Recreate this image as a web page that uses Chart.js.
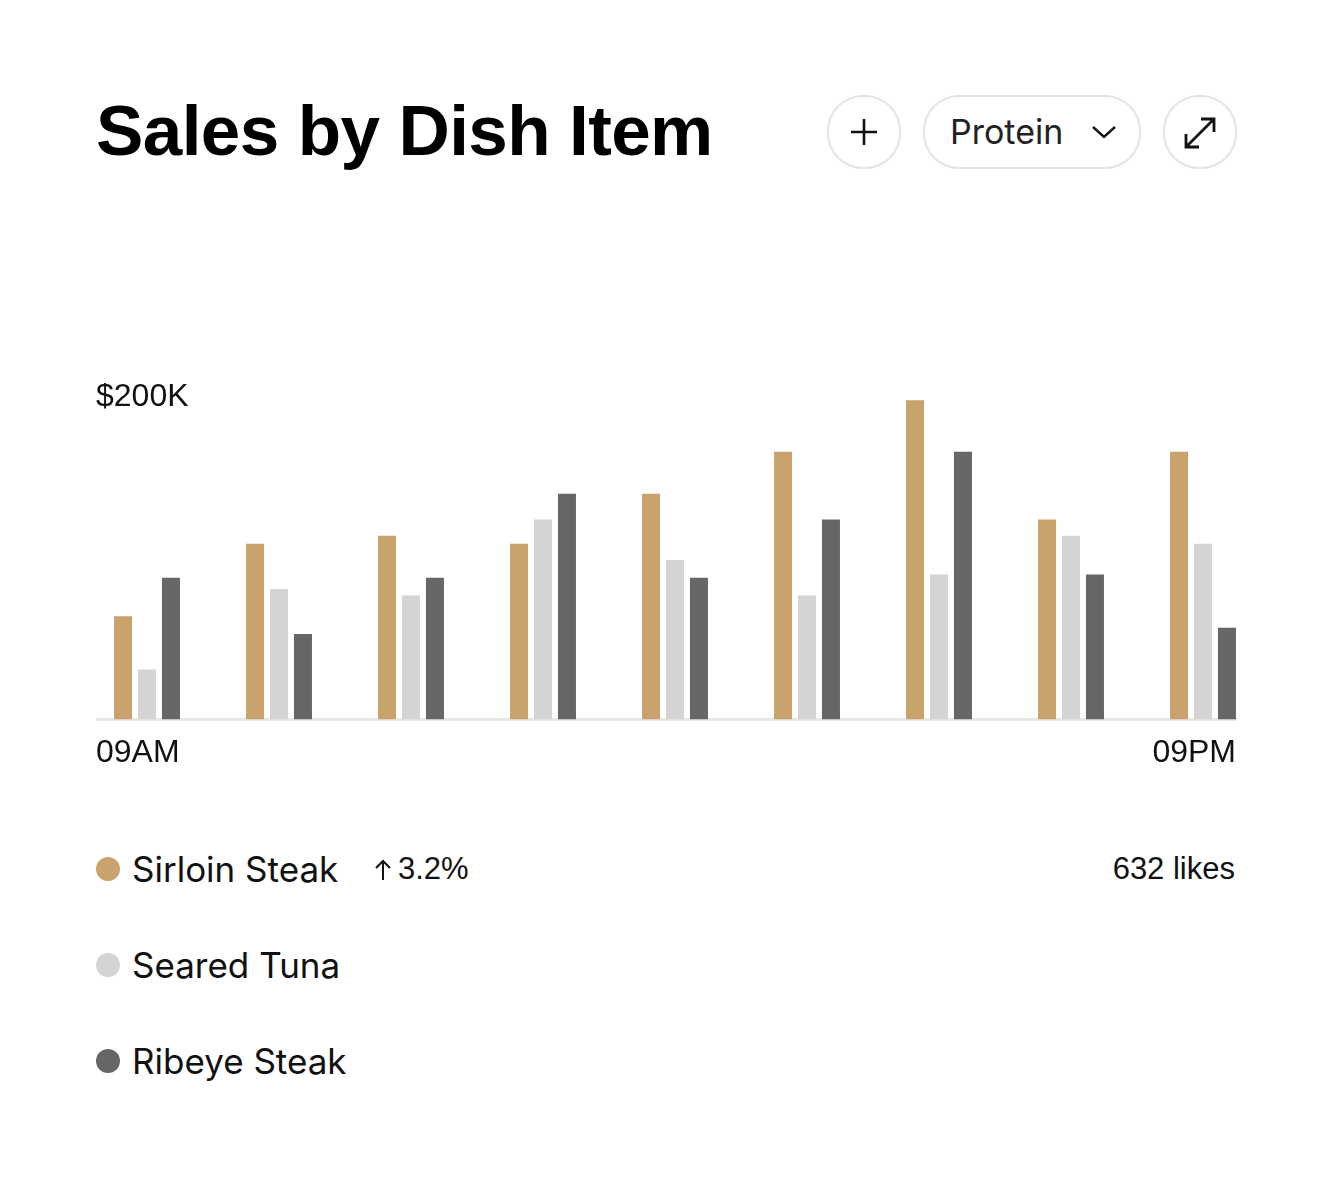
<!DOCTYPE html>
<html>
<head>
<meta charset="utf-8">
<script src="https://cdn.jsdelivr.net/npm/chart.js@4/dist/chart.umd.min.js"></script>
<style>
  html, body { margin: 0; padding: 0; background: #fff; }
  body { width: 1332px; height: 1188px; position: relative; overflow: hidden; font-family: "Liberation Sans", Arial, sans-serif; color: #111; }
  .abs { position: absolute; white-space: nowrap; }
  #title { left: 96px; top: 95px; font-size: 71px; line-height: 71px; font-weight: bold; letter-spacing: -0.6px; color: #000; }
  .btn { position: absolute; box-sizing: border-box; border: 2px solid #e4e4e4; border-radius: 36px; height: 74px; top: 95px; background: #fff; }
  #plus { left: 827px; width: 74px; }
  #pill { left: 923px; width: 218px; }
  #expand { left: 1163px; width: 74px; }
  #pill span { position: absolute; left: 25px; top: 17px; font-family: Inter, sans-serif; font-size: 34px; line-height: 36px; color: #222; }
  .btn svg { position: absolute; }
  #chartBox { position: absolute; left: 96px; top: 370px; width: 1141px; height: 402px; }
  .leg { position: absolute; left: 96px; height: 40px; }
  .dot { position: absolute; left: 0; top: 8px; width: 24px; height: 24px; border-radius: 50%; }
  .leg span { position: absolute; left: 36px; top: 0; font-family: Inter, sans-serif; font-size: 35px; line-height: 40px; color: #111; white-space: nowrap; }
  .small { font-size: 31px; line-height: 40px; color: #111; }
</style>
</head>
<body>
<div id="title" class="abs">Sales by Dish Item</div>

<div class="btn" id="plus">
  <svg width="70" height="70" style="left:0;top:0" viewBox="0 0 70 70">
    <path d="M35 22 V48 M22 35 H48" stroke="#111" stroke-width="2.6" fill="none"/>
  </svg>
</div>
<div class="btn" id="pill">
  <span>Protein</span>
  <svg width="30" height="20" style="left:165px;top:25px" viewBox="0 0 30 20">
    <path d="M3 5 L14 15 L25 5" stroke="#111" stroke-width="2.4" fill="none"/>
  </svg>
</div>
<div class="btn" id="expand">
  <svg width="70" height="70" style="left:0;top:0" viewBox="0 0 70 70">
    <path d="M21 50 L49 22 M36 22 H49 V35 M21 37 V50 H34" stroke="#111" stroke-width="2.8" fill="none"/>
  </svg>
</div>

<div id="chartBox"><canvas id="myChartBar"></canvas></div>

<div class="leg" style="top:849px"><div class="dot" style="background:#c9a26d"></div><span>Sirloin Steak</span></div>
<svg class="abs" style="left:373px;top:858px" width="20" height="24" viewBox="0 0 20 24">
  <path d="M10 22 V3 M3 10 L10 3 L17 10" stroke="#111" stroke-width="2" fill="none"/>
</svg>
<div class="abs small" style="left:398px;top:849px">3.2%</div>
<div class="abs small" style="right:97px;top:849px">632 likes</div>
<div class="leg" style="top:945px"><div class="dot" style="background:#d4d4d4"></div><span>Seared Tuna</span></div>
<div class="leg" style="top:1041px"><div class="dot" style="background:#666666"></div><span>Ribeye Steak</span></div>

<script>
const ctxBar = document.getElementById('myChartBar');

// time slots, 09AM .. 09PM
const slots = ['09AM', '10:30AM', '12PM', '01:30PM', '03PM', '04:30PM', '06PM', '07:30PM', '09PM'];
const tickLabels = ['09AM', '09PM'];
const yTickValue = 200;

// sales in $K
const sirloin = [64, 109, 114, 109, 140, 166, 198, 124, 166];
const tuna    = [31, 81, 77, 124, 99, 77, 90, 114, 109];
const ribeye  = [88, 53, 88, 140, 88, 124, 166, 90, 57];

const xMin = -0.3864;
const xMax = 8.25;

function pts(arr) {
    return arr.map((v, i) => ({ x: i, y: v }));
}

new Chart(ctxBar, {
    type: 'bar',
    data: {
        datasets: [
            { label: 'Sirloin Steak', data: pts(sirloin), backgroundColor: '#c9a26d' },
            { label: 'Seared Tuna', data: pts(tuna), backgroundColor: '#d4d4d4' },
            { label: 'Ribeye Steak', data: pts(ribeye), backgroundColor: '#666666' }
        ]
    },
    options: {
        responsive: true,
        maintainAspectRatio: false,
        animation: false,
        categoryPercentage: 0.545,
        barPercentage: 0.75,
        layout: { padding: { top: 27, left: 0, right: 1, bottom: 0 } },
        plugins: {
            legend: { display: false },
            tooltip: {
                callbacks: {
                    title: (items) => slots[items[0].parsed.x],
                    label: (item) => item.dataset.label + ': $' + item.parsed.y + 'K'
                }
            }
        },
        scales: {
            x: {
                type: 'linear',
                min: xMin,
                max: xMax,
                offset: false,
                afterBuildTicks: (scale) => { scale.ticks = slots.map((s, i) => ({ value: i })); },
                ticks: { display: false },
                grid: { display: false, drawTicks: true, tickLength: 14, offset: false },
                border: { display: true, color: '#e6e6e6', width: 3 }
            },
            xl: {
                type: 'linear',
                position: 'bottom',
                min: xMin,
                max: xMax,
                offset: false,
                afterBuildTicks: (scale) => { scale.ticks = [{ value: xMin }, { value: xMax }]; },
                ticks: {
                    align: 'inner',
                    maxRotation: 0,
                    autoSkip: false,
                    padding: 0,
                    color: '#111',
                    font: { family: 'Liberation Sans', size: 32 },
                    callback: (v, i) => tickLabels[i]
                },
                grid: { display: false, drawTicks: false, offset: false },
                border: { display: false }
            },
            y: {
                min: 0,
                max: 200,
                afterBuildTicks: (scale) => { scale.ticks = [{ value: yTickValue }]; },
                ticks: {
                    mirror: true,
                    padding: 0,
                    color: '#111',
                    font: { family: 'Liberation Sans', size: 32 },
                    callback: (v) => '$' + v + 'K'
                },
                grid: { display: false, drawTicks: false },
                border: { display: false }
            }
        }
    }
});
</script>
</body>
</html>
